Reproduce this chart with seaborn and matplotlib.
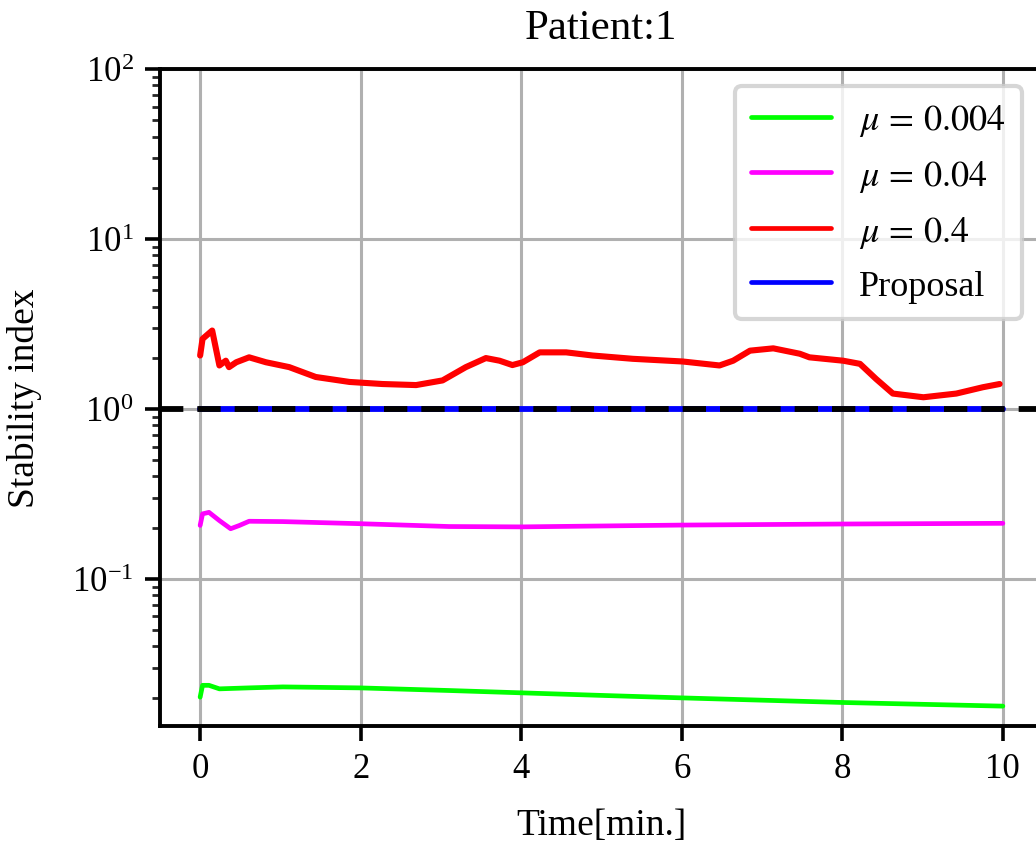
import numpy as np
import pandas as pd
import matplotlib
matplotlib.use("Agg")
import matplotlib.pyplot as plt
import seaborn as sns

# Stability index over time for each weighting value
t_red = [0.0, 0.03, 0.15, 0.24, 0.32, 0.36, 0.45, 0.61, 0.82, 1.11, 1.44, 1.86, 2.27,
         2.69, 3.02, 3.31, 3.56, 3.73, 3.89, 4.02, 4.23, 4.56, 4.89, 5.39, 6.01, 6.47,
         6.64, 6.85, 7.14, 7.47, 7.59, 8.01, 8.22, 8.42, 8.63, 9.01, 9.42, 9.75, 9.96]
v_red = [2.06, 2.58, 2.89, 1.80, 1.92, 1.76, 1.88, 2.01, 1.88, 1.76, 1.54, 1.44, 1.40,
         1.38, 1.47, 1.76, 1.99, 1.92, 1.81, 1.88, 2.15, 2.15, 2.06, 1.97, 1.90, 1.80,
         1.92, 2.20, 2.27, 2.11, 2.01, 1.92, 1.84, 1.50, 1.23, 1.17, 1.23, 1.34, 1.40]

t_mag = [0.0, 0.03, 0.11, 0.24, 0.38, 0.49, 0.61, 1.03, 1.98, 3.10, 4.0, 6.0, 8.0, 10.0]
v_mag = [0.206, 0.241, 0.246, 0.220, 0.197, 0.206, 0.218, 0.217, 0.211, 0.203, 0.202,
         0.207, 0.210, 0.212]

t_grn = [0.0, 0.03, 0.11, 0.24, 0.61, 1.03, 1.98, 3.10, 4.98, 6.01, 8.01, 10.0]
v_grn = [0.0201, 0.0236, 0.0236, 0.0225, 0.0228, 0.0231, 0.0228, 0.0220, 0.0206,
         0.0199, 0.0187, 0.0178]

t_prop = [0.0, 10.0]
v_prop = [1.0, 1.0]

labels = [r"$\mu\,=\,0.004$", r"$\mu\,=\,0.04$", r"$\mu\,=\,0.4$", "Proposal"]
colors = ["#00ff00", "#ff00ff", "#ff0000", "#0000ff"]
widths = [3.4, 3.4, 4.4, 4.2]

sns.set_style("ticks")
plt.rcParams["font.family"] = ["Liberation Serif", "DejaVu Serif"]
plt.rcParams["mathtext.fontset"] = "stix"
plt.rcParams["text.color"] = "black"
plt.rcParams["axes.labelcolor"] = "black"

fig = plt.figure(figsize=(10.36, 8.45), dpi=100)
ax = fig.add_axes([160 / 1036, 1 - 727 / 845, (1043 - 160) / 1036, (727 - 70) / 845])

series = [(t_grn, v_grn), (t_mag, v_mag), (t_red, v_red), (t_prop, v_prop)]
for (tx, vy), lab, col, lw in zip(series, labels, colors, widths):
    df = pd.DataFrame({"t": tx, "v": vy})
    sns.lineplot(data=df, x="t", y="v", ax=ax, color=col, label=lab,
                 linewidth=lw, estimator=None, sort=False, zorder=3)

ax.axhline(1.0, color="black", linewidth=4.2, dashes=(4.0, 2.4), zorder=4)

ax.set_yscale("log")
ax.set_ylim(0.0136, 100)
ax.set_xlim(-0.5, 10.5)
ax.set_xticks([0, 2, 4, 6, 8, 10])
ax.grid(True, which="major", color="#b0b0b0", linewidth=2.2)
ax.set_axisbelow(True)

for s in ax.spines.values():
    s.set_linewidth(2.8)
    s.set_color("black")
ax.tick_params(axis="both", which="major", direction="out", length=11, width=2.6,
               labelsize=25, pad=8, colors="black")
ax.tick_params(axis="y", which="minor", direction="out", length=6, width=2)

ax.set_xlabel("Time[min.]", fontsize=27, labelpad=16)
ax.set_ylabel("Stability index", fontsize=27, labelpad=22)
ax.set_title("Patient:1", fontsize=31, pad=22)

leg = ax.legend(loc="upper right", fontsize=26, frameon=True, fancybox=True,
                framealpha=0.8, edgecolor="#cccccc", handlelength=2.2,
                handletextpad=0.8, borderpad=0.45, labelspacing=0.55,
                borderaxespad=0,
                bbox_to_anchor=((1022 - 160) / (1043 - 160), 1 - (87 - 70) / (727 - 70)))
leg.get_frame().set_linewidth(3)
for h in leg.get_lines():
    h.set_linewidth(3.4)

fig.savefig("out.png", dpi=100)
